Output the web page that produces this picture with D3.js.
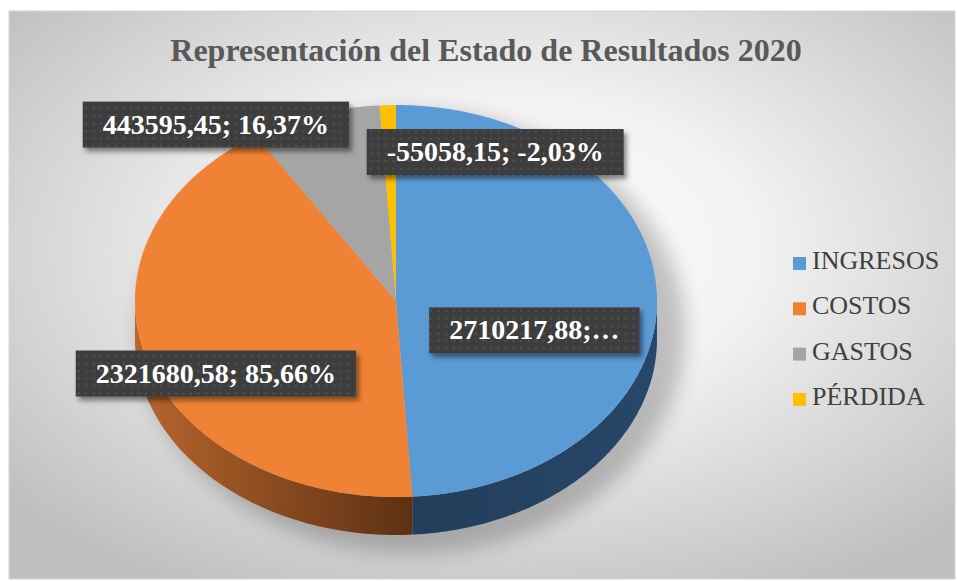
<!DOCTYPE html>
<html><head><meta charset="utf-8">
<script src="https://cdn.jsdelivr.net/npm/d3@7"></script>
<style>body{margin:0;background:#fff;} svg{display:block;}</style>
</head><body>
<svg id="c" width="957" height="581"></svg>
<script>
// ---- data ----
const categories = ["INGRESOS", "COSTOS", "GASTOS", "PÉRDIDA"];
const values = [2710217.88, 2321680.58, 443595.45, -55058.15];
const labelTexts = ["2710217,88;…", "2321680,58; 85,66%", "443595,45; 16,37%", "-55058,15; -2,03%"];
const titleText = "Representación del Estado de Resultados 2020";

// ---- styles / layout ----
const topColors = ["#5B9BD5", "#F08235", "#A5A5A5", "#FFC000"];
const cx = 396, cy = 301, rx = 261, ry = 196, depth = 38;
const serif = "'Liberation Serif','Times New Roman',serif";
// label centres as fractions of the pie radii, relative to pie centre
const labelAnchor = [[0.53, 0.15], [-0.69, 0.37], [-0.69, -0.90], [0.38, -0.76]];

const svg = d3.select("#c");
const defs = svg.append("defs");

const bg = defs.append("radialGradient").attr("id", "bg").attr("cx", "52%").attr("cy", "42%").attr("r", "68%");
bg.append("stop").attr("offset", "0").attr("stop-color", "#ffffff");
bg.append("stop").attr("offset", "0.4").attr("stop-color", "#f2f2f2");
bg.append("stop").attr("offset", "1").attr("stop-color", "#bfbfbf");

const og = defs.append("linearGradient").attr("id", "sideOrange").attr("gradientUnits", "userSpaceOnUse")
  .attr("x1", cx - rx).attr("x2", cx + 18).attr("y1", 0).attr("y2", 0);
og.append("stop").attr("offset", "0").attr("stop-color", "#B8662C");
og.append("stop").attr("offset", "1").attr("stop-color", "#5C3013");
const bgSide = defs.append("linearGradient").attr("id", "sideBlue").attr("gradientUnits", "userSpaceOnUse")
  .attr("x1", cx).attr("x2", cx + rx).attr("y1", 0).attr("y2", 0);
bgSide.append("stop").attr("offset", "0").attr("stop-color", "#223D58");
bgSide.append("stop").attr("offset", "1").attr("stop-color", "#27476A");
const sideFill = ["url(#sideBlue)", "url(#sideOrange)", "#6a6a6a", "#a07a00"];

const blur = defs.append("filter").attr("id", "pieShadow").attr("x", "-30%").attr("y", "-30%").attr("width", "160%").attr("height", "160%");
blur.append("feGaussianBlur").attr("stdDeviation", 10);

const ds = defs.append("filter").attr("id", "boxShadow").attr("x", "-10%").attr("y", "-20%").attr("width", "130%").attr("height", "160%");
ds.append("feDropShadow").attr("dx", 3).attr("dy", 4).attr("stdDeviation", 2.5).attr("flood-color", "#000").attr("flood-opacity", 0.45);

const pat = defs.append("pattern").attr("id", "dots").attr("patternUnits", "userSpaceOnUse").attr("width", 7.5).attr("height", 7.5);
pat.append("rect").attr("width", 7.5).attr("height", 7.5).attr("fill", "#3c3c3c");
pat.append("rect").attr("x", 2.5).attr("y", 2.5).attr("width", 2).attr("height", 2).attr("fill", "#545454");

// background
svg.append("rect").attr("x", 9).attr("y", 11).attr("width", 946).attr("height", 568)
  .attr("fill", "url(#bg)").attr("stroke", "#d6d6d6").attr("stroke-width", 1);

// title
svg.append("text").attr("x", 486).attr("y", 61).attr("text-anchor", "middle")
  .attr("font-family", serif).attr("font-weight", "bold")
  .attr("font-size", 32).attr("fill", "#595959").text(titleText);

// pie geometry
const pie = d3.pie().sort(null).value(d => Math.abs(d));
const arcs = pie(values);
function pt(a, dy) { return [cx + rx * Math.sin(a), cy - ry * Math.cos(a) + (dy || 0)]; }
function topPath(a0, a1) {
  const n = Math.max(2, Math.ceil((a1 - a0) / 0.01));
  const p = d3.path();
  p.moveTo(cx, cy);
  for (let i = 0; i <= n; i++) { const q = pt(a0 + (a1 - a0) * i / n); p.lineTo(q[0], q[1]); }
  p.closePath();
  return p.toString();
}
function sidePath(a0, a1) {
  const s = Math.max(a0, Math.PI / 2), e = Math.min(a1, 3 * Math.PI / 2);
  if (e <= s) return null;
  const n = Math.max(2, Math.ceil((e - s) / 0.01));
  const p = d3.path();
  let q = pt(s); p.moveTo(q[0], q[1]);
  for (let i = 1; i <= n; i++) { q = pt(s + (e - s) * i / n); p.lineTo(q[0], q[1]); }
  for (let i = n; i >= 0; i--) { q = pt(s + (e - s) * i / n, depth); p.lineTo(q[0], q[1]); }
  p.closePath();
  return p.toString();
}

// shadow
svg.append("ellipse").attr("cx", cx + 16).attr("cy", cy + depth / 2 + 12).attr("rx", rx + 12).attr("ry", ry + depth / 2 + 6)
  .attr("fill", "#000").attr("opacity", 0.22).attr("filter", "url(#pieShadow)");

const g = svg.append("g");
arcs.forEach((a, i) => {
  const d = sidePath(a.startAngle, a.endAngle);
  if (d) g.append("path").attr("d", d).attr("fill", sideFill[i]);
});
arcs.forEach((a, i) => {
  g.append("path").attr("d", topPath(a.startAngle, a.endAngle)).attr("fill", topColors[i]);
});

// data labels
const boxH = 46, padX = 20;
arcs.forEach((a, i) => {
  const lx = cx + labelAnchor[i][0] * rx, ly = cy + labelAnchor[i][1] * ry;
  const lg = svg.append("g");
  const rect = lg.append("rect").attr("fill", "url(#dots)").attr("filter", "url(#boxShadow)");
  const t = lg.append("text").attr("x", lx).attr("y", ly + 9).attr("text-anchor", "middle")
    .attr("font-family", serif).attr("font-weight", "bold")
    .attr("font-size", 28).attr("fill", "#ffffff").text(labelTexts[i]);
  const w = t.node().getComputedTextLength() + 2 * padX;
  rect.attr("x", lx - w / 2).attr("y", ly - boxH / 2).attr("width", w).attr("height", boxH);
});

// legend
const leg = svg.append("g");
categories.forEach((c, i) => {
  const y = 269 + i * 45.3;
  leg.append("rect").attr("x", 793).attr("y", y - 12).attr("width", 13).attr("height", 13).attr("fill", topColors[i]);
  leg.append("text").attr("x", 812).attr("y", y)
    .attr("font-family", serif).attr("font-size", 26)
    .attr("fill", "#404040").text(c);
});
</script>
</body></html>
